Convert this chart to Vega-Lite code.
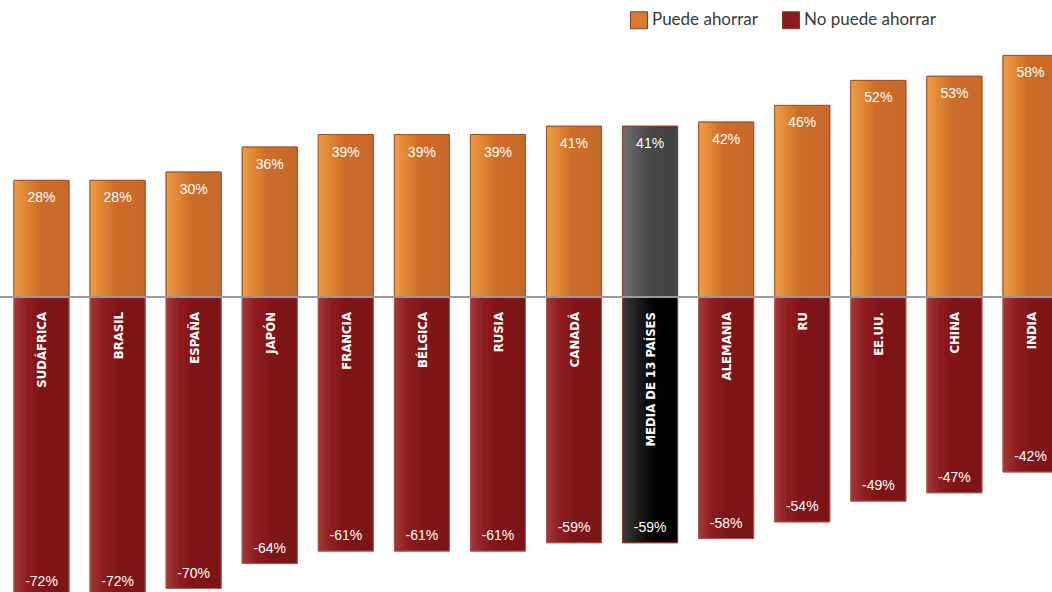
{
  "$schema": "https://vega.github.io/schema/vega-lite/v6.json",
  "width": 1052,
  "height": 592,
  "padding": 0,
  "autosize": {"type": "none"},
  "background": "white",
  "config": {"view": {"stroke": null}},
  "data": {"values": [
    {"pais": "SUDÁFRICA", "serie": "Puede ahorrar", "valor": 28},
    {"pais": "SUDÁFRICA", "serie": "No puede ahorrar", "valor": -72},
    {"pais": "BRASIL", "serie": "Puede ahorrar", "valor": 28},
    {"pais": "BRASIL", "serie": "No puede ahorrar", "valor": -72},
    {"pais": "ESPAÑA", "serie": "Puede ahorrar", "valor": 30},
    {"pais": "ESPAÑA", "serie": "No puede ahorrar", "valor": -70},
    {"pais": "JAPÓN", "serie": "Puede ahorrar", "valor": 36},
    {"pais": "JAPÓN", "serie": "No puede ahorrar", "valor": -64},
    {"pais": "FRANCIA", "serie": "Puede ahorrar", "valor": 39},
    {"pais": "FRANCIA", "serie": "No puede ahorrar", "valor": -61},
    {"pais": "BÉLGICA", "serie": "Puede ahorrar", "valor": 39},
    {"pais": "BÉLGICA", "serie": "No puede ahorrar", "valor": -61},
    {"pais": "RUSIA", "serie": "Puede ahorrar", "valor": 39},
    {"pais": "RUSIA", "serie": "No puede ahorrar", "valor": -61},
    {"pais": "CANADÁ", "serie": "Puede ahorrar", "valor": 41},
    {"pais": "CANADÁ", "serie": "No puede ahorrar", "valor": -59},
    {"pais": "MEDIA DE 13 PAÍSES", "serie": "Puede ahorrar", "valor": 41},
    {"pais": "MEDIA DE 13 PAÍSES", "serie": "No puede ahorrar", "valor": -59},
    {"pais": "ALEMANIA", "serie": "Puede ahorrar", "valor": 42},
    {"pais": "ALEMANIA", "serie": "No puede ahorrar", "valor": -58},
    {"pais": "RU", "serie": "Puede ahorrar", "valor": 46},
    {"pais": "RU", "serie": "No puede ahorrar", "valor": -54},
    {"pais": "EE.UU.", "serie": "Puede ahorrar", "valor": 52},
    {"pais": "EE.UU.", "serie": "No puede ahorrar", "valor": -49},
    {"pais": "CHINA", "serie": "Puede ahorrar", "valor": 53},
    {"pais": "CHINA", "serie": "No puede ahorrar", "valor": -47},
    {"pais": "INDIA", "serie": "Puede ahorrar", "valor": 58},
    {"pais": "INDIA", "serie": "No puede ahorrar", "valor": -42}
  ]},
  "transform": [{"calculate": "datum.valor + '%'", "as": "etiqueta"}],
  "encoding": {
    "x": {
      "field": "pais", "type": "nominal", "sort": null,
      "scale": {"range": [0, 1072], "paddingInner": 0.277, "paddingOuter": 0.184},
      "axis": null
    },
    "y": {
      "field": "valor", "type": "quantitative",
      "scale": {"domain": [-70.83, 71.31], "nice": false, "zero": false},
      "axis": null
    }
  },
  "layer": [
    {
      "mark": {"type": "bar", "strokeWidth": 1, "stroke": "#A5502A"},
      "encoding": {
        "color": {
          "field": "serie", "type": "nominal",
          "scale": {"domain": ["Puede ahorrar", "No puede ahorrar"], "range": ["#D97A2E", "#8A1C1E"]},
          "legend": {
            "title": null, "orient": "none", "legendX": 630, "legendY": 11,
            "direction": "horizontal", "columns": 2, "padding": 0,
            "symbolType": "square", "symbolSize": 289, "symbolStrokeWidth": 1,
            "symbolStrokeColor": "#8A3A2A", "labelFont": "Lato", "labelFontSize": 17,
            "labelColor": "#3A3A3A", "labelOffset": 4, "columnPadding": 22, "labelLimit": 300
          }
        }
      }
    },
    {
      "transform": [{"filter": "datum.valor > 0 && datum.pais != 'MEDIA DE 13 PAÍSES'"}],
      "mark": {
        "type": "bar", "stroke": "#A5502A", "strokeWidth": 1,
        "fill": {"gradient": "linear", "x1": 0, "y1": 0, "x2": 1, "y2": 0,
          "stops": [{"offset": 0, "color": "#EE9D48"}, {"offset": 0.25, "color": "#DE8230"}, {"offset": 0.45, "color": "#CC6D2A"}, {"offset": 1, "color": "#C8682A"}]}
      }
    },
    {
      "transform": [{"filter": "datum.valor < 0 && datum.pais != 'MEDIA DE 13 PAÍSES'"}],
      "mark": {
        "type": "bar", "stroke": "#A85A5A", "strokeWidth": 1,
        "fill": {"gradient": "linear", "x1": 0, "y1": 0, "x2": 1, "y2": 0,
          "stops": [{"offset": 0, "color": "#A33838"}, {"offset": 0.25, "color": "#8E1C1E"}, {"offset": 0.5, "color": "#801517"}, {"offset": 1, "color": "#7C1416"}]}
      }
    },
    {
      "transform": [{"filter": "datum.valor > 0 && datum.pais == 'MEDIA DE 13 PAÍSES'"}],
      "mark": {
        "type": "bar", "stroke": "#8A3535", "strokeWidth": 1,
        "fill": {"gradient": "linear", "x1": 0, "y1": 0, "x2": 1, "y2": 0,
          "stops": [{"offset": 0, "color": "#707070"}, {"offset": 0.3, "color": "#555555"}, {"offset": 0.55, "color": "#454545"}, {"offset": 1, "color": "#424242"}]}
      }
    },
    {
      "transform": [{"filter": "datum.valor < 0 && datum.pais == 'MEDIA DE 13 PAÍSES'"}],
      "mark": {
        "type": "bar", "stroke": "#8A3535", "strokeWidth": 1,
        "fill": {"gradient": "linear", "x1": 0, "y1": 0, "x2": 1, "y2": 0,
          "stops": [{"offset": 0, "color": "#3A3A3A"}, {"offset": 0.3, "color": "#1A1A1A"}, {"offset": 0.55, "color": "#050505"}, {"offset": 1, "color": "#000000"}]}
      }
    },
    {
      "mark": {"type": "rule", "color": "#9A9A9A", "strokeWidth": 2},
      "encoding": {"x": null, "y": {"datum": 0, "type": "quantitative"}}
    },
    {
      "transform": [{"filter": "datum.valor > 0"}],
      "mark": {"type": "text", "baseline": "top", "dy": 11, "color": "white", "font": "Liberation Sans", "fontSize": 14},
      "encoding": {"text": {"field": "etiqueta", "type": "nominal"}}
    },
    {
      "transform": [{"filter": "datum.valor < 0"}],
      "mark": {"type": "text", "baseline": "bottom", "dy": -8, "color": "white", "font": "Liberation Sans", "fontSize": 14},
      "encoding": {"text": {"field": "etiqueta", "type": "nominal"}}
    },
    {
      "transform": [{"filter": "datum.valor < 0"}],
      "mark": {"type": "text", "angle": 270, "align": "right", "baseline": "middle", "dx": 0, "dy": 1, "color": "white", "font": "DejaVu Sans Condensed", "fontWeight": "bold", "fontSize": 13},
      "encoding": {"y": {"datum": -3.6, "type": "quantitative"}, "text": {"field": "pais", "type": "nominal"}}
    }
  ]
}
